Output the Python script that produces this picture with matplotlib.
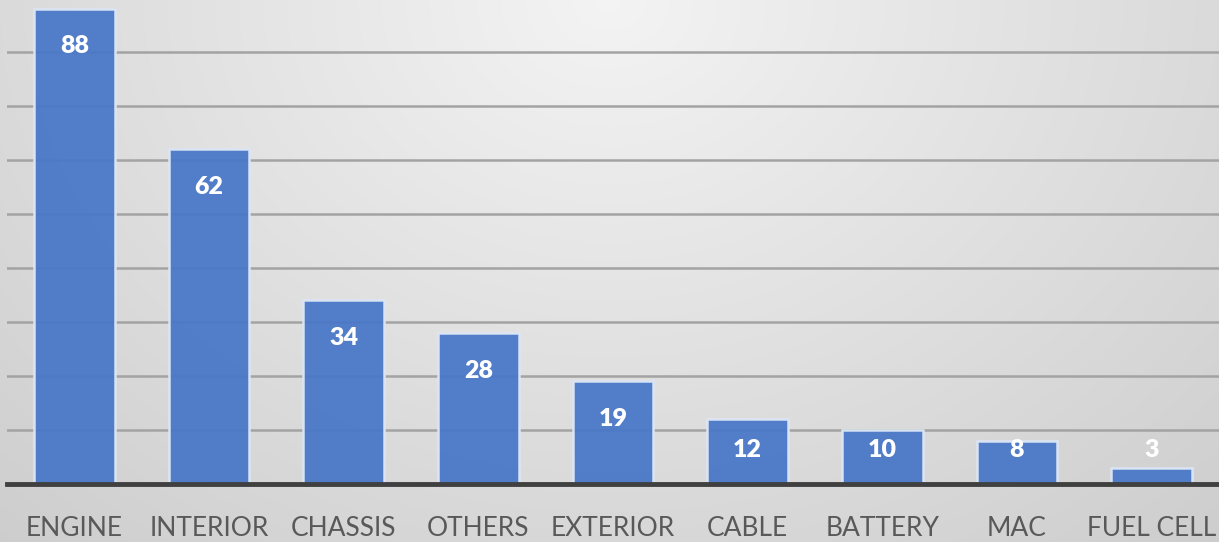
import numpy as np
import matplotlib
matplotlib.use("Agg")
import matplotlib.pyplot as plt

categories = ["ENGINE", "INTERIOR", "CHASSIS", "OTHERS", "EXTERIOR",
              "CABLE", "BATTERY", "MAC", "FUEL CELL"]
values = [88, 62, 34, 28, 19, 12, 10, 8, 3]
grid_values = [10, 20, 30, 40, 50, 60, 70, 80]

W, H = 1219, 542
fig = plt.figure(figsize=(W / 100, H / 100), dpi=100)

# radial grey gradient background, light at top centre
bg = fig.add_axes([0, 0, 1, 1], zorder=-10)
yy, xx = np.mgrid[0:1:300j, 0:1:600j]
d = np.sqrt(((xx - 0.5) / 0.55) ** 2 + ((1 - yy) / 1.0) ** 2)
shade = np.clip(0.955 - 0.11 * d, 0.79, 1.0)
bg.imshow(np.dstack([shade] * 3), origin="lower", extent=[0, 1, 0, 1], aspect="auto")
bg.axis("off")

ax = fig.add_axes([7 / W, 58 / H, 1 - 7 / W, 1 - 58 / H])
ax.patch.set_alpha(0)
x = np.arange(len(categories))
ax.set_xlim(-0.5, len(categories) - 0.5)
ax.set_ylim(0, 89.6)

for g in grid_values:
    ax.axhline(g, color="#a3a3a3", lw=1.8, zorder=1)

bars = ax.bar(x, values, width=0.6, color="#4a78c8", alpha=0.95,
              edgecolor="#dde7f6", linewidth=1.8, zorder=2)

# labels sit inside the bar top, clamped for short bars
for xi, v in zip(x, values):
    ypos = max(v - 7, 6.3)
    ax.text(xi, ypos, str(v), ha="center", va="center", color="white",
            fontsize=18, fontweight="heavy", family="Lato", zorder=4)

ax.axhline(0, color="#404040", lw=3.5, zorder=3, clip_on=False)

for s in ax.spines.values():
    s.set_visible(False)
ax.set_yticks([])
ax.set_xticks(x)
ax.set_xticklabels(categories, fontsize=19, color="#595959", family="Lato")
ax.tick_params(axis="x", length=0, pad=23)

fig.savefig("out.png", dpi=100)
